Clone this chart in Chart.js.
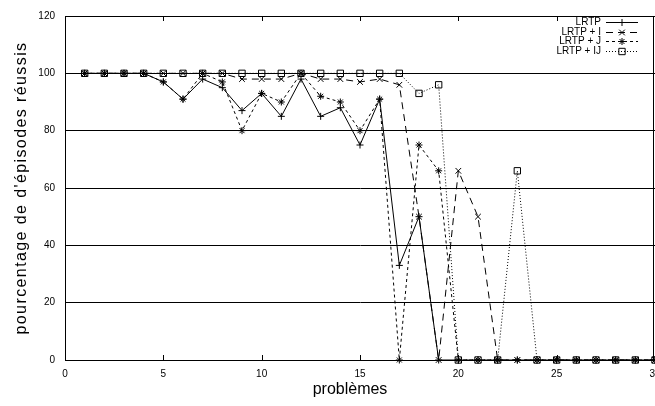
<!DOCTYPE html>
<html>
<head>
<meta charset="utf-8">
<script src="https://cdn.jsdelivr.net/npm/chart.js@4.4.1/dist/chart.umd.min.js"></script>
<style>
html, body { margin: 0; padding: 0; background: #fff; overflow: hidden; }
canvas { display: block; }
</style>
</head>
<body>
<canvas id="chart" width="655" height="406"></canvas>
<script>
// values
const problems = [1, 2, 3, 4, 5, 6, 7, 8, 9, 10, 11, 12, 13, 14, 15, 16, 17, 18, 19, 20, 21, 22, 23, 24, 25, 26, 27, 28, 29, 30];
const lrtp   = [100, 100, 100, 100, 97, 91, 98, 95, 87, 93, 85, 98, 85, 88, 75, 91, 33, 50, 0, 0, 0, 0, 0, 0, 0, 0, 0, 0, 0, 0];
const lrtpI  = [100, 100, 100, 100, 100, 100, 100, 100, 98, 98, 98, 100, 98, 98, 97, 98, 96, 50, 0, 66, 50, 0, 0, 0, 0, 0, 0, 0, 0, 0];
const lrtpJ  = [100, 100, 100, 100, 97, 91, 100, 97, 80, 93, 90, 100, 92, 90, 80, 91, 0, 75, 66, 0, 0, 0, 0, 0, 0, 0, 0, 0, 0, 0];
const lrtpIJ = [100, 100, 100, 100, 100, 100, 100, 100, 100, 100, 100, 100, 100, 100, 100, 100, 100, 93, 96, 0, 0, 0, 66, 0, 0, 0, 0, 0, 0, 0];
const xTicks = [0, 5, 10, 15, 20, 25, 30];
const yTicks = [0, 20, 40, 60, 80, 100, 120];
const xTitle = 'problèmes';
const yTitle = "pourcentage de d'épisodes réussis";

const FONT = "'Liberation Sans', Arial, Helvetica, sans-serif";

function toPoints(values) {
    return problems.map((p, i) => ({x: p, y: values[i]}));
}

function makeSeries(label, values, dash, style, radius) {
    return {
        label: label,
        data: toPoints(values),
        borderColor: '#000',
        borderWidth: 1,
        borderDash: dash,
        pointStyle: style,
        pointRadius: radius,
        pointBorderColor: '#000',
        pointBackgroundColor: 'rgba(0,0,0,0)',
        pointBorderWidth: 1,
        tension: 0,
        fill: false,
        clip: false
    };
}

// gnuplot style: ticks pointing inside, frame all round
const innerTicks = {
    id: 'innerTicks',
    afterDatasetsDraw(chart) {
        const {ctx, chartArea: a, scales: {x}} = chart;
        ctx.save();
        ctx.strokeStyle = '#000';
        ctx.lineWidth = 1;
        ctx.setLineDash([]);
        ctx.beginPath();
        xTicks.forEach(v => {
            let px = Math.round(x.getPixelForValue(v)) + 0.5;
            ctx.moveTo(px, a.bottom); ctx.lineTo(px, a.bottom - 5);
            ctx.moveTo(px, a.top); ctx.lineTo(px, a.top + 5);
        });
        ctx.stroke();
        ctx.strokeRect(a.left + 0.5, a.top + 0.5, a.right - a.left - 2, a.bottom - a.top);
        ctx.restore();
    }
};

// axis titles (the y one is drawn a little stretched, as in the original)
const axisTitles = {
    id: 'axisTitles',
    afterDraw(chart) {
        const {ctx, chartArea: a} = chart;
        ctx.save();
        ctx.fillStyle = '#000';
        ctx.font = '16px ' + FONT;
        ctx.textAlign = 'center';
        ctx.textBaseline = 'middle';
        ctx.fillText(xTitle, (a.left + a.right) / 2 - 10, 390);
        ctx.translate(22, (a.top + a.bottom) / 2);
        ctx.rotate(-Math.PI / 2);
        ctx.letterSpacing = '1.4px';
        ctx.fillText(yTitle, 0, 0);
        ctx.restore();
    }
};

// legend in the upper right corner: text, then line sample with marker
const keyBox = {
    id: 'keyBox',
    afterDraw(chart) {
        const {ctx} = chart;
        ctx.save();
        ctx.font = '10px ' + FONT;
        ctx.textAlign = 'right';
        ctx.textBaseline = 'middle';
        chart.data.datasets.forEach((ds, i) => {
            let yy = Math.round(22 + i * 9.7) + 0.5;
            ctx.fillStyle = '#000';
            ctx.fillText(ds.label, 601, yy);
            ctx.strokeStyle = '#000';
            ctx.lineWidth = 1;
            ctx.setLineDash(ds.borderDash);
            ctx.beginPath();
            ctx.moveTo(606, yy);
            ctx.lineTo(638, yy);
            ctx.stroke();
            ctx.setLineDash([]);
            ctx.fillStyle = 'rgba(0,0,0,0)';
            Chart.helpers.drawPoint(ctx, {
                pointStyle: ds.pointStyle,
                radius: ds.pointRadius,
                rotation: 0,
                borderWidth: 1
            }, 622, yy);
        });
        ctx.restore();
    }
};

new Chart(document.getElementById('chart'), {
    type: 'line',
    data: {
        datasets: [
            makeSeries('LRTP', lrtp, [], 'cross', 3.5),
            makeSeries('LRTP + I', lrtpI, [7, 5], 'crossRot', 4),
            makeSeries('LRTP + J', lrtpJ, [3, 3], 'star', 3.5),
            makeSeries('LRTP + IJ', lrtpIJ, [1, 2], 'rect', 4.5)
        ]
    },
    options: {
        responsive: false,
        animation: false,
        layout: {autoPadding: false, padding: {top: 11, right: 0, left: 0, bottom: 0}},
        plugins: {
            legend: {display: false},
            tooltip: {enabled: false}
        },
        scales: {
            x: {
                type: 'linear',
                min: 0,
                max: 30,
                afterBuildTicks: scale => { scale.ticks = xTicks.map(v => ({value: v})); },
                // axis runs to the right edge, "30" gets cut like in the original
                afterFit: scale => { scale.height = 46; scale.paddingLeft = 0; scale.paddingRight = 0; },
                grid: {display: false, drawTicks: false},
                border: {display: true, color: '#000', width: 1},
                ticks: {color: '#000', font: {family: FONT, size: 10}, padding: 8, maxRotation: 0}
            },
            y: {
                min: 0,
                max: 120,
                afterBuildTicks: scale => { scale.ticks = yTicks.map(v => ({value: v})); },
                afterFit: scale => { scale.width = 65; },
                grid: {color: '#000', lineWidth: 1, drawTicks: false},
                border: {display: true, color: '#000', width: 1},
                ticks: {color: '#000', font: {family: FONT, size: 10}, padding: 10}
            }
        }
    },
    plugins: [innerTicks, axisTitles, keyBox]
});
</script>
</body>
</html>
